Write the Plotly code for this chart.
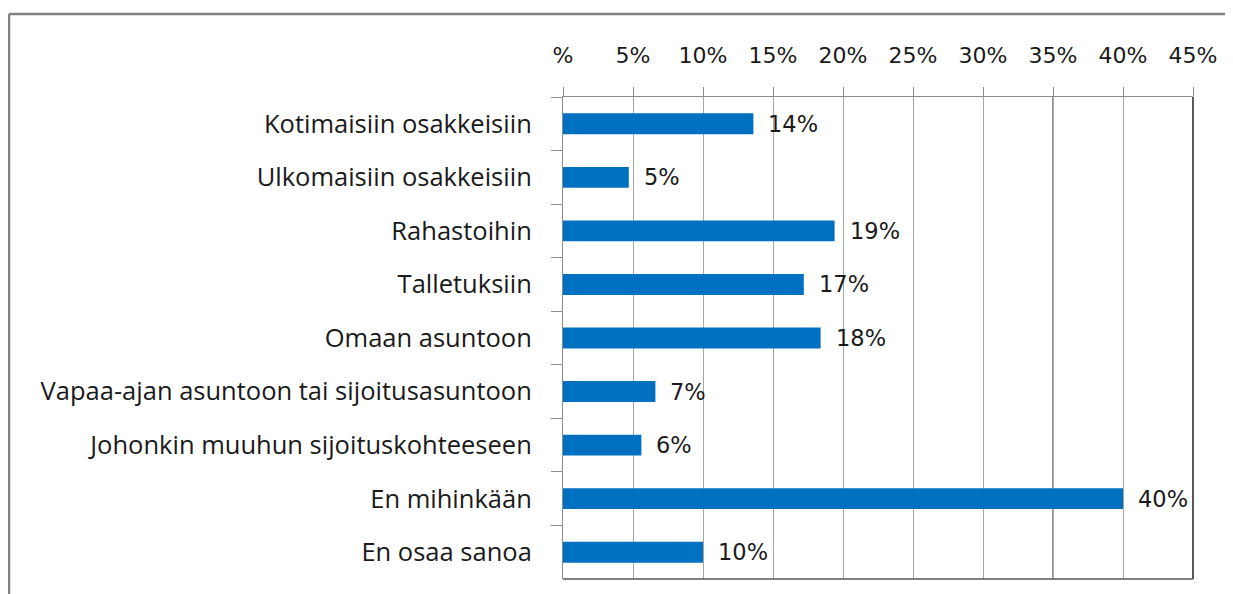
import plotly.graph_objects as go

categories = [
    "Kotimaisiin osakkeisiin",
    "Ulkomaisiin osakkeisiin",
    "Rahastoihin",
    "Talletuksiin",
    "Omaan asuntoon",
    "Vapaa-ajan asuntoon tai sijoitusasuntoon",
    "Johonkin muuhun sijoituskohteeseen",
    "En mihinkään",
    "En osaa sanoa",
]
values = [13.6, 4.7, 19.4, 17.2, 18.4, 6.6, 5.6, 40.0, 10.0]
value_labels = ["14%", "5%", "19%", "17%", "18%", "7%", "6%", "40%", "10%"]
tick_vals = [0, 5, 10, 15, 20, 25, 30, 35, 40, 45]
tick_text = ["%", "5%", "10%", "15%", "20%", "25%", "30%", "35%", "40%", "45%"]

# page body has an 8px margin; figure is sized so it ends at the window edge
OFF = 8
W, H = 1233 - OFF, 594 - OFF
ML, MR, MT, MB = 563 - OFF, 40, 97 - OFF, 15
pw, ph = W - ML - MR, H - MT - MB

fig = go.Figure()
fig.add_trace(go.Bar(
    x=values, y=categories, orientation="h",
    marker=dict(color="#0070C0", line=dict(width=0)),
    width=0.39, hoverinfo="x+y",
))

for c, v, t in zip(categories, values, value_labels):
    fig.add_annotation(x=v, y=c, text=t, showarrow=False, xanchor="left",
                       xshift=13, font=dict(family="DejaVu Sans", size=22.5, color="#1a1a1a"))

def px_x(p):
    return (p - OFF - ML) / pw

def px_y(p):
    return (H - MB - (p - OFF)) / ph

shapes = [
    # outer border (top and left visible)
    dict(type="line", xref="paper", yref="paper", x0=px_x(9), x1=px_x(1240), y0=px_y(14), y1=px_y(14),
         line=dict(color="#808080", width=2.5)),
    dict(type="line", xref="paper", yref="paper", x0=px_x(9), x1=px_x(9), y0=px_y(14), y1=px_y(600),
         line=dict(color="#808080", width=2.5)),
    # right and bottom plot border
    dict(type="line", xref="paper", yref="paper", x0=1, x1=1, y0=0, y1=1,
         line=dict(color="#222222", width=1.5)),
    dict(type="line", xref="paper", yref="paper", x0=0, x1=1, y0=0, y1=0,
         line=dict(color="#555555", width=1.5)),
    dict(type="line", xref="x", yref="paper", x0=35, x1=35, y0=0, y1=1, layer="below",
         line=dict(color="#707070", width=1.5)),
]

fig.update_layout(
    width=W, height=H,
    margin=dict(l=ML, r=MR, t=MT, b=MB, pad=0),
    paper_bgcolor="white", plot_bgcolor="white",
    showlegend=False, shapes=shapes,
    font=dict(family="Open Sans", color="#1a1a1a"),
    xaxis=dict(
        side="top", range=[0, 45], tickvals=tick_vals, ticktext=tick_text,
        showgrid=True, gridcolor="#A6A6A6", gridwidth=1.2,
        showline=True, linecolor="#8C8C8C", linewidth=1.2,
        ticks="outside", ticklen=9, tickcolor="#8C8C8C", tickwidth=1.2,
        ticklabelstandoff=15, zeroline=False,
        tickfont=dict(family="DejaVu Sans", size=22, color="#1a1a1a"),
        fixedrange=True,
    ),
    yaxis=dict(
        categoryorder="array", categoryarray=categories, autorange="reversed",
        showgrid=False, showline=True, linecolor="#8C8C8C", linewidth=1.2,
        ticks="outside", ticklen=11, tickcolor="#8C8C8C", tickwidth=1.2,
        tickson="boundaries", ticklabelstandoff=25,
        tickfont=dict(family="Open Sans", size=25.5, color="#1a1a1a"),
        fixedrange=True,
    ),
)

fig.write_html("out.html")
